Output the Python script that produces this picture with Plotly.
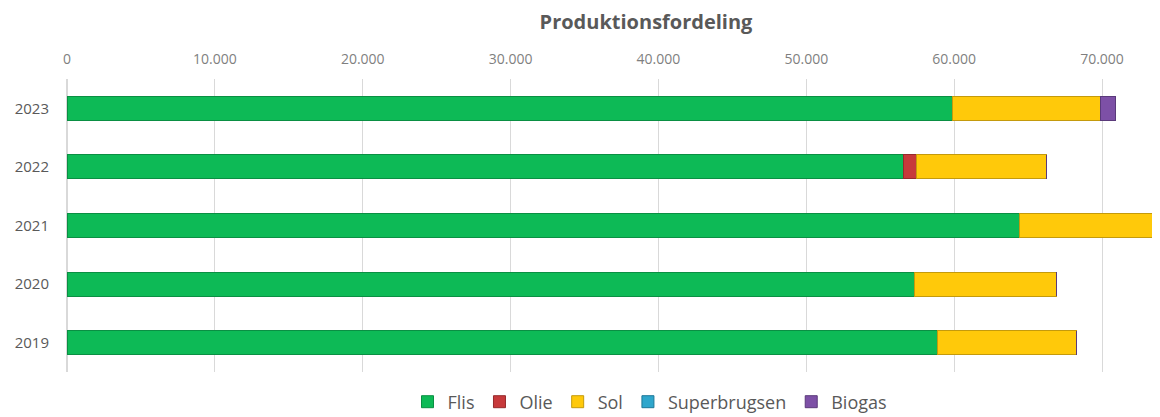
import plotly.graph_objects as go

years = ["2023", "2022", "2021", "2020", "2019"]
flis = [59900, 56550, 64450, 57350, 58900]
olie = [0, 900, 0, 0, 0]
sol = [10000, 8800, 10500, 9600, 9400]
superbrugsen = [0, 0, 0, 0, 0]
biogas = [1000, 0, 0, 0, 0]

series = [
    ("Flis", flis, "#0DBA56", "#0a8f43"),
    ("Olie", olie, "#C7393B", "#952a2c"),
    ("Sol", sol, "#FFC90A", "#c49a0c"),
    ("Superbrugsen", superbrugsen, "#2EA6CC", "#1d7898"),
    ("Biogas", biogas, "#7D50A6", "#5a3a7a"),
]

fig = go.Figure()
for name, vals, col, edge in series:
    fig.add_trace(go.Bar(
        y=years, x=vals, name=name, orientation="h",
        marker=dict(color=col, line=dict(color=edge, width=1)),
    ))

# page body has an 8px margin: figure starts at screen px (8, 8)
W, H = 1144, 409
fig.update_layout(
    barmode="stack",
    bargap=0.59,
    width=W, height=H,
    margin=dict(l=59, r=0, t=71, b=45, autoexpand=False),
    paper_bgcolor="white", plot_bgcolor="white",
    separators=",.",
    font=dict(family="Open Sans, sans-serif", color="#595959"),
    title=dict(text="<b>Produktionsfordeling</b>", x=638/W, xanchor="center",
               y=1 - 14/H, yanchor="middle",
               font=dict(size=20, color="#595959", family="Open Sans, sans-serif")),
    xaxis=dict(side="top", range=[0, 73380], tickmode="linear", tick0=0, dtick=10000,
               tickformat=",", showgrid=True, gridcolor="#d9d9d9", gridwidth=1,
               zeroline=True, zerolinecolor="#d9d9d9", showline=False,
               tickfont=dict(size=14, color="#7f7f7f"), ticks="",
               ticklabelstandoff=11, automargin=False),
    yaxis=dict(autorange="reversed", type="category", showgrid=False,
               tickfont=dict(size=15, color="#595959"), ticks="",
               ticklabelstandoff=17, automargin=False),
    legend=dict(orientation="h", x=(642 - 59)/(W - 59), xanchor="center",
                y=-30/293, yanchor="middle", traceorder="normal",
                font=dict(size=18, color="#595959")),
)
fig.write_html("out.html")
